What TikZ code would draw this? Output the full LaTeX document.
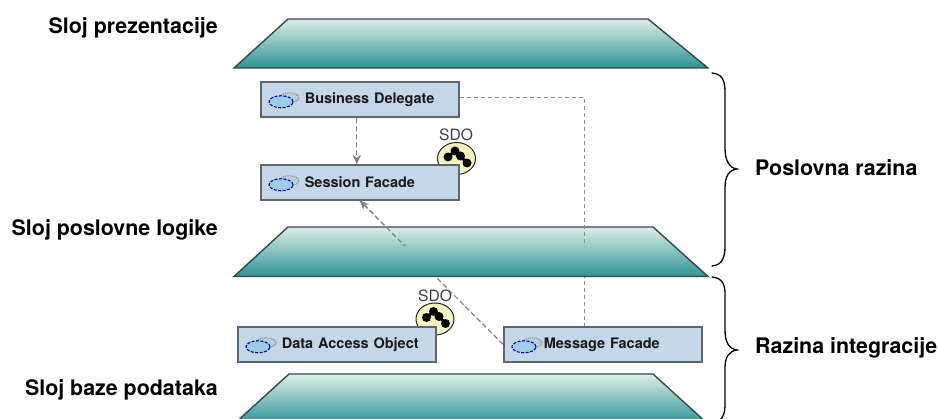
\documentclass[tikz,border=0pt]{standalone}
\usepackage{fontspec}
\setmainfont{TeX Gyre Heros}
\usetikzlibrary{arrows.meta}
\definecolor{boxfill}{HTML}{C4D7E8}
\definecolor{boxline}{HTML}{5E666E}
\definecolor{plantop}{HTML}{DCEDE8}
\definecolor{planbot}{HTML}{2C9494}
\definecolor{planline}{HTML}{36484A}
\definecolor{conn}{HTML}{808080}
\definecolor{sdofill}{HTML}{F6F4BE}
\definecolor{cloudb}{HTML}{B4D0DC}
\definecolor{cloudf}{HTML}{9CCDE6}
\tikzset{
  every node/.style={inner sep=0pt},
  plane/.style={draw=planline,line width=1.4pt,line join=miter,top color=plantop,bottom color=planbot},
  layer/.style={font=\fontsize{21.4}{25}\selectfont\bfseries,text=black},
  compbox/.style={draw=boxline,fill=boxfill,line width=1.6pt,minimum height=35pt,minimum width=198pt,text width=190pt,inner xsep=4pt,align=left,anchor=north west,font=\fontsize{14.5}{17}\selectfont\bfseries,text=black!90},
  dashconn/.style={draw=conn,line width=1.2pt,dash pattern=on 5pt off 3pt},
  thinconn/.style={draw=conn!90,line width=.9pt,dash pattern=on 4.5pt off 2.5pt},
  arrowconn/.style={-{Stealth[length=9pt,width=8pt]}},
  sdobody/.style={draw=black!85,fill=sdofill,line width=1pt},
  sdolabel/.style={font=\fontsize{15.6}{18}\selectfont,text=black!75},
  brace/.style={draw=black,line width=1.3pt,line cap=round},
  cloudback/.style={draw=black!50,fill=cloudb,line width=.9pt,densely dotted},
  cloudfront/.style={draw=blue!70!black,fill=cloudf,line width=1.1pt,dash pattern=on 3pt off 1.5pt}
}
\newcommand{\cloudicon}[1]{%
  \draw[cloudback] ([xshift=29pt,yshift=1.5pt]#1.west) ellipse (10pt and 5pt);
  \draw[cloudfront] ([xshift=21pt,yshift=-2.5pt]#1.west) ellipse (12pt and 6pt);
}
\newcommand{\sdodots}[1]{%
  \draw[black,line width=3pt] (#1) ++(-8.5,-1.5) -- ++(7,-6) -- ++(5.5,5) -- ++(6.5,7);
  \fill[black] (#1) ++(-1.5,-7.5) circle (4.5pt);
  \fill[black] (#1) ++(-8.5,-1.5) circle (4.5pt);
  \fill[black] (#1) ++(4,-2.5) circle (4.5pt);
  \fill[black] (#1) ++(10.5,4.5) circle (4.5pt);
}
\begin{document}
\begin{tikzpicture}[x=1pt,y=-1pt]
\useasboundingbox (0,0) rectangle (939,419);
\fill[white] (0,0) rectangle (939,419);
\begin{scope}
\clip (0,0) rectangle (939,419);

% SDO badges sit behind the boxes
\coordinate (sdoa) at (456.5,158.5);
\coordinate (sdob) at (435,319);
\draw[sdobody] (sdoa) ellipse (19pt and 16pt);
\sdodots{sdoa}
\draw[sdobody] (sdob) ellipse (19pt and 16pt);
\sdodots{sdob}
\node[sdolabel] (sdolabela) at (456,135) {SDO};
\node[sdolabel] (sdolabelb) at (435,296) {SDO};

% component boxes
\node[compbox] (bd) at (260,81) {\hspace*{40pt}Business Delegate};
\node[compbox] (sf) at (260,164) {\hspace*{40pt}Session Facade};
\node[compbox] (dao) at (237,326) {\hspace*{40pt}Data Access Object};
\node[compbox] (mf) at (503,326) {\hspace*{36pt}Message Facade};
\cloudicon{bd}
\cloudicon{sf}
\cloudicon{dao}
\begin{scope}[xshift=-2pt]\cloudicon{mf}\end{scope}

% connectors under the planes
\draw[dashconn] (mf.west) -- (sf.south);
\draw[thinconn] ([yshift=1.5pt]bd.east) -| ([xshift=-18pt]mf.north);
\draw[dashconn,arrowconn] ([xshift=-3pt]bd.south) -- ([xshift=-3pt]sf.north);

% planes
\path[plane] (234,68) -- (288,19) -- (648,19) -- (708,68) -- cycle;
\path[plane] (234,276.5) -- (288,227) -- (653,227) -- (708,276.5) -- cycle;
\path[plane] (234,424) -- (289,374) -- (653,374) -- (708,424) -- cycle;

% upper stretch of the connectors shows over the middle plane
\begin{scope}
\clip (300,150) rectangle (700,246);
\draw[dashconn,arrowconn] (mf.west) -- (sf.south);
\draw[thinconn] ([yshift=1.5pt]bd.east) -| ([xshift=-18pt]mf.north);
\end{scope}

% layer captions
\node[layer,anchor=east] (t1) at (218,28) {Sloj prezentacije};
\node[layer,anchor=east] (t2) at (218,230) {Sloj poslovne logike};
\node[layer,anchor=east] (t3) at (218,390) {Sloj baze podataka};
\node[layer,anchor=west] (t4) at (755,168) {Poslovna razina};
\node[layer,anchor=west] (t5) at (755,348) {Razina integracije};

% braces
\draw[brace] (712,73) .. controls (722,74) and (725,80) .. (725,92) -- (725,148)
  .. controls (725,160) and (729,168) .. (737,169)
  .. controls (729,170) and (725,176) .. (725,188) -- (725,246)
  .. controls (725,258) and (722,265) .. (712,266);
\draw[brace] (712,277) .. controls (722,278) and (725,284) .. (725,294) -- (725,330)
  .. controls (725,342) and (729,349) .. (737,350)
  .. controls (729,351) and (725,357) .. (725,368) -- (725,406)
  .. controls (725,413) and (723,417) .. (720,420);
\end{scope}
\end{tikzpicture}
\end{document}
